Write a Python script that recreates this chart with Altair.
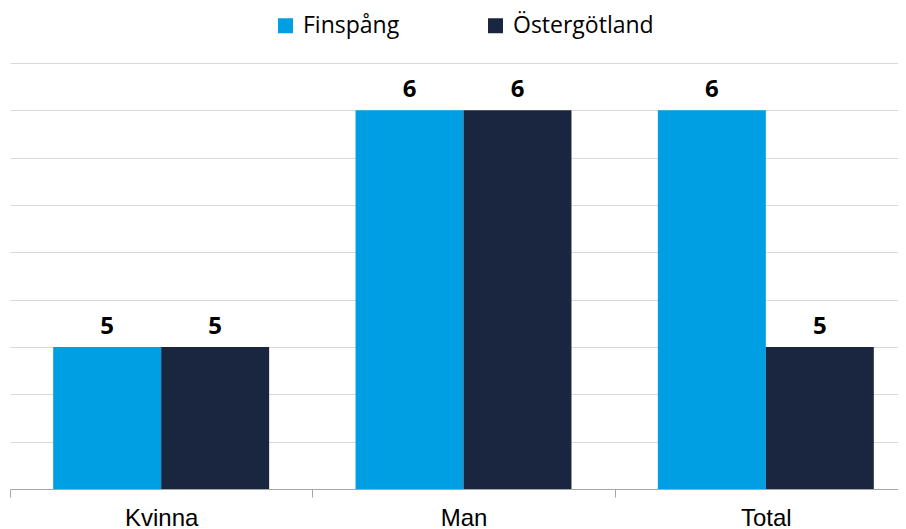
import altair as alt
import pandas as pd

categories = ["Kvinna", "Man", "Total"]
series = ["Finspång", "Östergötland"]
finspang = [5.0, 6.0, 6.0]
ostergotland = [5.0, 6.0, 5.0]
colors = ["#009FE3", "#1A2640"]

rows = []
for i, c in enumerate(categories):
    rows.append({"kategori": c, "serie": series[0], "varde": finspang[i]})
    rows.append({"kategori": c, "serie": series[1], "varde": ostergotland[i]})
df = pd.DataFrame(rows)

x = alt.X(
    "kategori:N",
    sort=categories,
    title=None,
    scale=alt.Scale(paddingInner=0, paddingOuter=0, range=[0, 907]),
    axis=alt.Axis(
        labelAngle=0,
        labelFont="Liberation Sans",
        labelFontSize=24,
        labelColor="#000000",
        labelPadding=9,
        tickBand="extent",
        tickSize=8,
        tickColor="#a6a6a6",
        domain=True,
        domainColor="#a6a6a6",
        grid=False,
    ),
)
y = alt.Y(
    "varde:Q",
    title=None,
    scale=alt.Scale(domain=[4.4, 6.2], zero=False, nice=False),
    axis=alt.Axis(
        values=[4.4, 4.6, 4.8, 5.0, 5.2, 5.4, 5.6, 5.8, 6.0, 6.2],
        labels=False,
        ticks=False,
        domain=False,
        grid=True,
        gridColor="#d9d9d9",
        gridWidth=1,
    ),
)
xo = alt.XOffset(
    "serie:N",
    sort=series,
    scale=alt.Scale(paddingInner=0, paddingOuter=0.4),
)

bars = alt.Chart(df).mark_bar(clip=True).encode(
    x=x,
    y=y,
    xOffset=xo,
    color=alt.Color(
        "serie:N",
        sort=series,
        scale=alt.Scale(domain=series, range=colors),
        legend=alt.Legend(
            title=None,
            orient="none",
            legendX=264,
            legendY=-49,
            direction="horizontal",
            symbolType="square",
            symbolSize=225,
            symbolStrokeWidth=0,
            symbolOpacity=1,
            labelFont="Open Sans",
            labelFontSize=23,
            labelColor="#000000",
            labelOffset=6,
            columnPadding=84,
            padding=0,
        ),
    ),
)

labels = alt.Chart(df).mark_text(
    baseline="bottom",
    dy=-8,
    font="Open Sans",
    fontSize=24,
    fontWeight="bold",
    color="#000000",
).encode(
    x=x,
    y=y,
    xOffset=xo,
    text=alt.Text("varde:Q", format=".0f"),
)

chart = (
    alt.layer(bars, labels)
    .properties(
        width=888,
        height=426,
        background="#ffffff",
        autosize=alt.AutoSizeParams(type="none"),
        padding={"left": 2, "top": 55, "right": 0, "bottom": 40},
    )
    .configure_view(stroke=None, strokeWidth=0)
    .configure_axisX(grid=False)
)

chart.save("out.html", embed_options={"renderer": "svg", "actions": False})
